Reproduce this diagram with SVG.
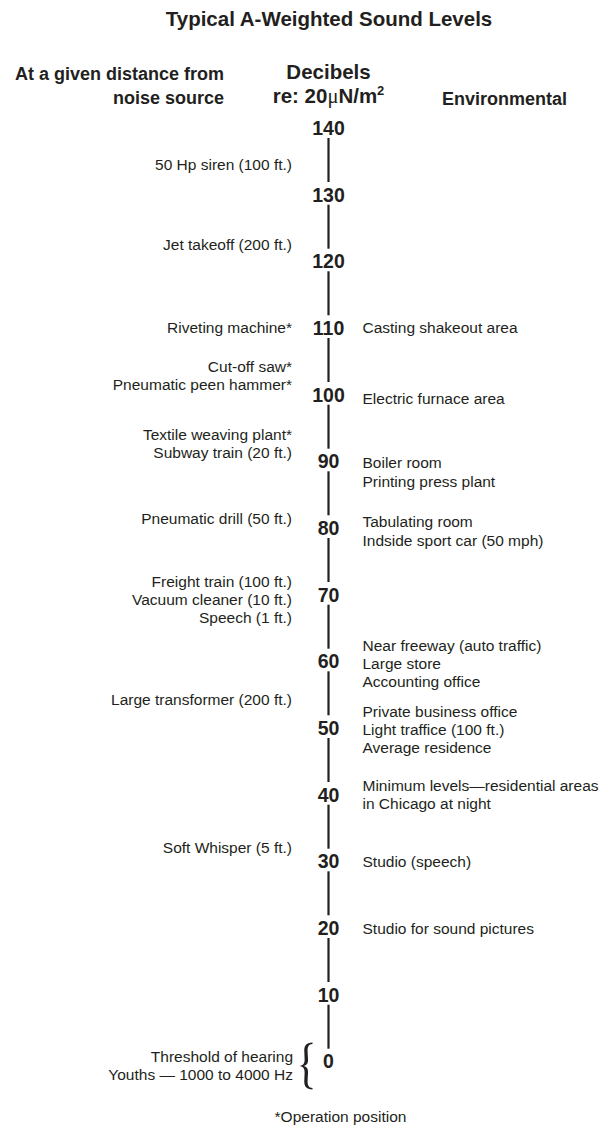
<svg xmlns="http://www.w3.org/2000/svg" width="602" height="1129" viewBox="0 0 602 1129">
<style>
text{font-family:"Liberation Sans",Arial,Helvetica,sans-serif;fill:#231f20}
.title{font-size:20.5px;font-weight:bold;text-anchor:middle}
.hd{font-size:18px;font-weight:bold}
.hdl{text-anchor:end}
.db{font-size:20.5px;font-weight:bold;text-anchor:middle}
.num{font-size:19.5px;font-weight:bold;text-anchor:middle}
.l{font-size:15.5px;text-anchor:end}
.r{font-size:15.5px;text-anchor:start}
.mu{font-family:"Liberation Serif","Times New Roman",serif;font-weight:normal}
.seg{stroke:#231f20;stroke-width:2.2;fill:none}
</style>
<rect width="602" height="1129" fill="#ffffff"/>
<g id="title"><text class="title" x="329" y="26">Typical A-Weighted Sound Levels</text></g>
<g id="headers">
<text class="hd hdl" x="224" y="80">At a given distance from</text>
<text class="hd hdl" x="224" y="104">noise source</text>
<text class="db" x="328.5" y="79">Decibels</text>
<text class="db" x="328.5" y="103">re: 20<tspan class="mu">μ</tspan>N/m<tspan font-size="13" dy="-8">2</tspan></text>
<text class="hd" x="442" y="105">Environmental</text>
</g>
<g id="connectors">
<line class="seg" x1="328.5" y1="138" x2="328.5" y2="182"/>
<line class="seg" x1="328.5" y1="204.7" x2="328.5" y2="248.7"/>
<line class="seg" x1="328.5" y1="271.3" x2="328.5" y2="315.3"/>
<line class="seg" x1="328.5" y1="338" x2="328.5" y2="382"/>
<line class="seg" x1="328.5" y1="404.7" x2="328.5" y2="448.7"/>
<line class="seg" x1="328.5" y1="471.3" x2="328.5" y2="515.3"/>
<line class="seg" x1="328.5" y1="538" x2="328.5" y2="582"/>
<line class="seg" x1="328.5" y1="604.7" x2="328.5" y2="648.7"/>
<line class="seg" x1="328.5" y1="671.3" x2="328.5" y2="715.3"/>
<line class="seg" x1="328.5" y1="738" x2="328.5" y2="782"/>
<line class="seg" x1="328.5" y1="804.7" x2="328.5" y2="848.7"/>
<line class="seg" x1="328.5" y1="871.3" x2="328.5" y2="915.3"/>
<line class="seg" x1="328.5" y1="938" x2="328.5" y2="982"/>
<line class="seg" x1="328.5" y1="1004.7" x2="328.5" y2="1048.7"/>
</g>
<g id="scale">
<text class="num" x="328.5" y="135">140</text>
<text class="num" x="328.5" y="201.7">130</text>
<text class="num" x="328.5" y="268.3">120</text>
<text class="num" x="328.5" y="335">110</text>
<text class="num" x="328.5" y="401.7">100</text>
<text class="num" x="328.5" y="468.3">90</text>
<text class="num" x="328.5" y="535">80</text>
<text class="num" x="328.5" y="601.7">70</text>
<text class="num" x="328.5" y="668.3">60</text>
<text class="num" x="328.5" y="735">50</text>
<text class="num" x="328.5" y="801.7">40</text>
<text class="num" x="328.5" y="868.3">30</text>
<text class="num" x="328.5" y="935">20</text>
<text class="num" x="328.5" y="1001.7">10</text>
<text class="num" x="328.5" y="1068.3">0</text>
</g>
<g id="sources">
<text class="l" x="292" y="170">50 Hp siren (100 ft.)</text>
<text class="l" x="292" y="250">Jet takeoff (200 ft.)</text>
<text class="l" x="292" y="333">Riveting machine*</text>
<text class="l" x="292" y="371.5">Cut-off saw*</text>
<text class="l" x="292" y="389.5">Pneumatic peen hammer*</text>
<text class="l" x="292" y="440">Textile weaving plant*</text>
<text class="l" x="292" y="458.3">Subway train (20 ft.)</text>
<text class="l" x="292" y="524">Pneumatic drill (50 ft.)</text>
<text class="l" x="292" y="586.5">Freight train (100 ft.)</text>
<text class="l" x="292" y="604.8">Vacuum cleaner (10 ft.)</text>
<text class="l" x="292" y="623">Speech (1 ft.)</text>
<text class="l" x="292" y="705">Large transformer (200 ft.)</text>
<text class="l" x="292" y="852.5">Soft Whisper (5 ft.)</text>
<text class="l" x="293" y="1061.5">Threshold of hearing</text>
<text class="l" x="293" y="1079.5">Youths — 1000 to 4000 Hz</text>
</g>
<g id="brace">
<path d="M312.5,1042.5 C306,1042.5 304,1046 304.3,1051.5 L304.6,1059 C304.8,1063.5 303.2,1065.5 299.5,1066 C303.2,1066.5 304.8,1068.5 304.6,1073 L304.3,1080.5 C304,1086 306,1089.5 312.5,1089.5 L312.5,1088 C308.5,1087.8 307.4,1085 307.6,1080.5 L308,1072.5 C308.2,1068.5 306.5,1066.5 303.5,1066 C306.5,1065.5 308.2,1063.5 308,1059.5 L307.6,1051.5 C307.4,1047 308.5,1044.2 312.5,1044 Z" fill="#231f20"/>
</g>
<g id="environmental">
<text class="r" x="362.5" y="333">Casting shakeout area</text>
<text class="r" x="362.5" y="404">Electric furnace area</text>
<text class="r" x="362.5" y="468.3">Boiler room</text>
<text class="r" x="362.5" y="486.6">Printing press plant</text>
<text class="r" x="362.5" y="527">Tabulating room</text>
<text class="r" x="362.5" y="545.5">Indside sport car (50 mph)</text>
<text class="r" x="362.5" y="650.5">Near freeway (auto traffic)</text>
<text class="r" x="362.5" y="668.8">Large store</text>
<text class="r" x="362.5" y="687">Accounting office</text>
<text class="r" x="362.5" y="716.7">Private business office</text>
<text class="r" x="362.5" y="735">Light traffice (100 ft.)</text>
<text class="r" x="362.5" y="753.3">Average residence</text>
<text class="r" x="362.5" y="791">Minimum levels—residential areas</text>
<text class="r" x="362.5" y="809">in Chicago at night</text>
<text class="r" x="362.5" y="867">Studio (speech)</text>
<text class="r" x="362.5" y="934">Studio for sound pictures</text>
</g>
<g id="footnote"><text class="l" style="text-anchor:middle" x="340.5" y="1122">*Operation position</text></g>
</svg>
